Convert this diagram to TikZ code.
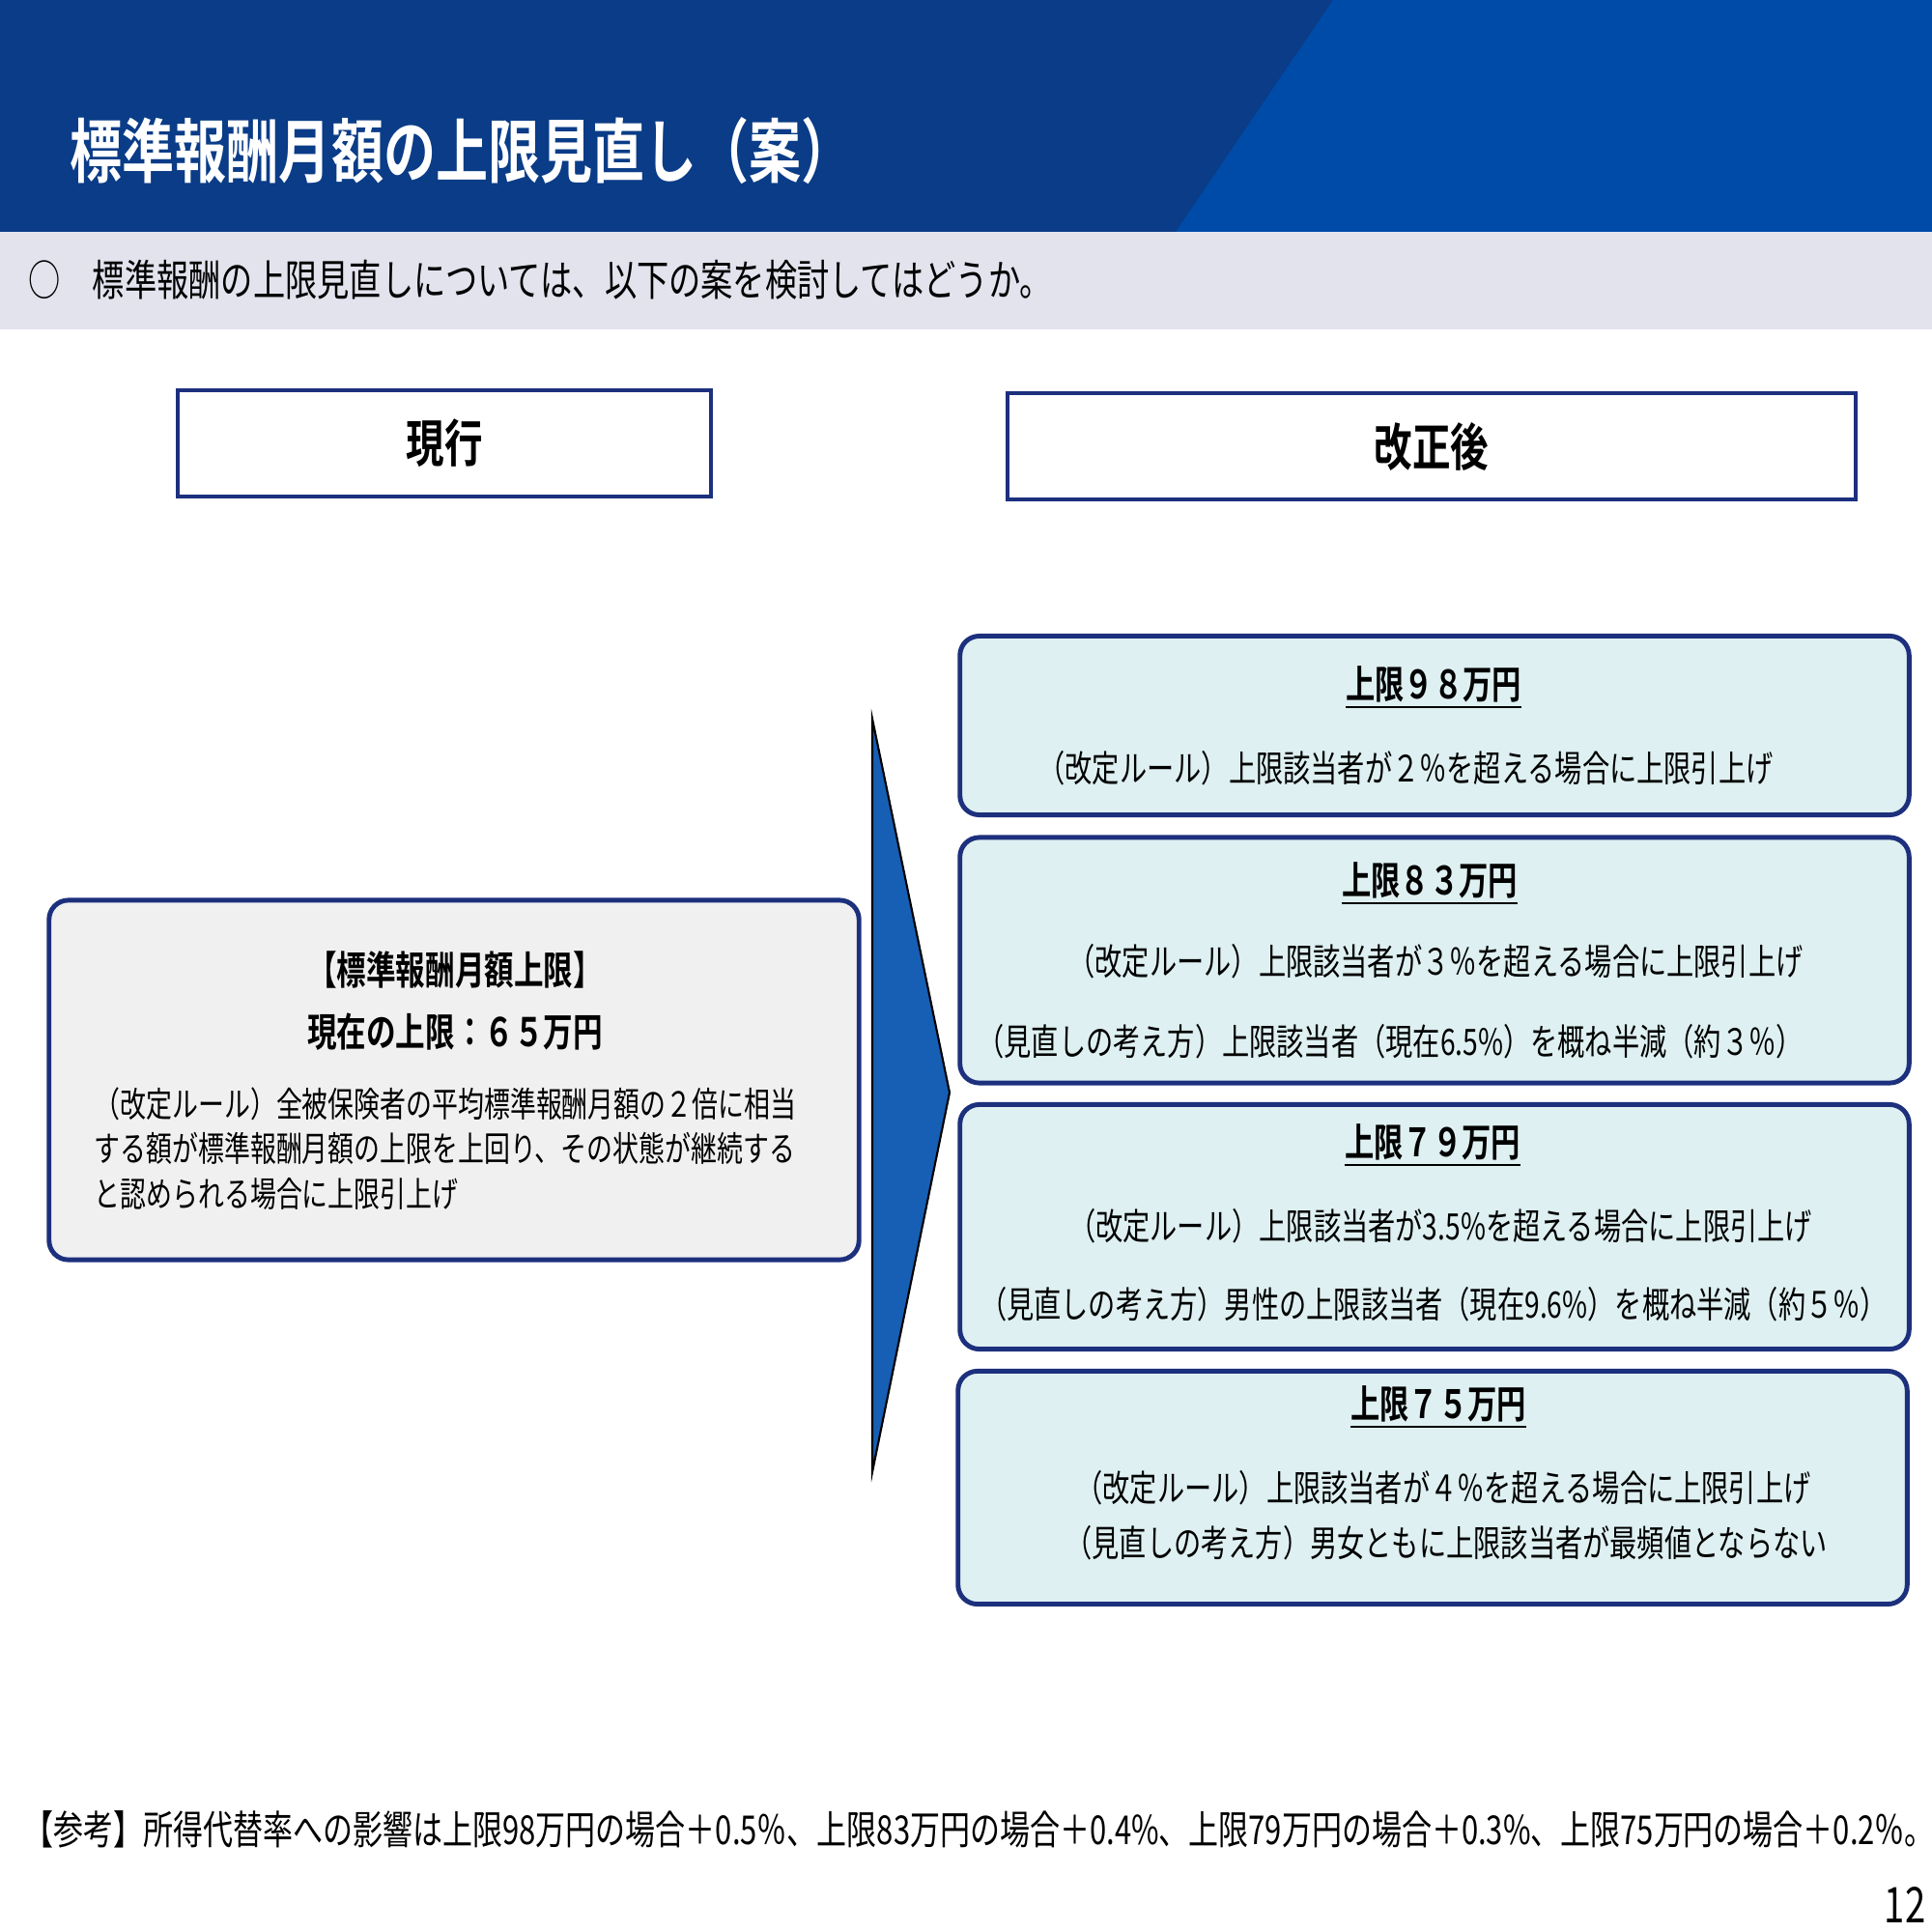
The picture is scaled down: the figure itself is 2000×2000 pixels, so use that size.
\documentclass[tikz,border=0pt]{standalone}
\usepackage{fontspec}
\setmainfont{Noto Sans CJK JP}[FakeStretch=0.75, BoldFont={Noto Sans CJK JP Bold}]
\usepackage{xcolor}
\usetikzlibrary{positioning,calc}

\definecolor{headdark}{RGB}{10,60,135}
\definecolor{headlight}{RGB}{0,75,168}
\definecolor{bandgray}{RGB}{227,227,238}
\definecolor{navyline}{RGB}{28,48,125}
\definecolor{nowfill}{RGB}{240,240,240}
\definecolor{planfill}{RGB}{222,240,241}
\definecolor{chevblue}{RGB}{22,95,180}

\begin{document}
\begin{tikzpicture}[
    x=0.01cm, y=-0.01cm,
    font=\small,
    colhead/.style={rectangle, draw=navyline, fill=white, line width=1.2pt, inner sep=0pt, minimum height=1.10cm, font=\fontsize{15}{18}\selectfont\bfseries},
    nowbox/.style={rectangle, draw=navyline, fill=nowfill, rounded corners=0.2cm, line width=1.4pt, inner sep=0pt, minimum width=8.38cm, minimum height=3.72cm},
    planbox/.style={rectangle, draw=navyline, fill=planfill, rounded corners=0.2cm, line width=1.4pt, inner sep=0pt, minimum width=9.82cm},
    nowhead/.style={inner sep=0pt, font=\fontsize{11.6}{13}\selectfont\bfseries},
    nowtext/.style={inner sep=0pt, align=left, font=\fontsize{10.2}{13.2}\selectfont},
    planhead/.style={inner sep=0pt, font=\fontsize{11.5}{13}\selectfont\bfseries},
    planline/.style={inner sep=0pt, font=\fontsize{10.7}{12.6}\selectfont},
    chevron/.style={fill=chevblue, draw=black, line width=0.6pt, line join=miter}
]
    \useasboundingbox (0,0) rectangle (2000,2000);

    % Header band & lead sentence
    \fill[headdark] (0,0) rectangle (2000,240);
    \fill[headlight] (1380,0) -- (2000,0) -- (2000,240) -- (1217,240) -- cycle;
    \fill[bandgray] (0,240) rectangle (2000,341);
    \node (title) at (72,156) [anchor=west, inner sep=0pt, text=white, font=\fontsize{20.5}{23}\selectfont\bfseries] {標準報酬月額の上限見直し（案）};
    \node (lead) at (29,290) [anchor=west, inner sep=0pt, font=\fontsize{12.6}{14}\selectfont] {○\hspace{0.33cm}標準報酬の上限見直しについては、以下の案を検討してはどうか。};

    % Column headings
    \node (now) at (460,459) [colhead, minimum width=5.51cm] {現行};
    \node (after) at (1482,462) [colhead, minimum width=8.78cm] {改正後};

    % Current rule (left)
    \node (nowbox) at (470,1118) [nowbox] {};
    \node (nowtitle) at (471,1004) [nowhead] {【標準報酬月額上限】};
    \node (nowcap) at (471,1068) [nowhead] {現在の上限：６５万円};
    \node (nowrule) at (97,1189) [nowtext, anchor=west] {（改定ルール）全被保険者の平均標準報酬月額の２倍に相当\\する額が標準報酬月額の上限を上回り、その状態が継続する\\と認められる場合に上限引上げ};

    % Chevron
    \filldraw[chevron] (903,744) -- (983,1131) -- (903,1524) -- cycle;

    % Revised options (right)
    \node (p98) at (1485,751) [planbox, minimum height=1.85cm] {};
    \node (p83) at (1485,994) [planbox, minimum height=2.54cm] {};
    \node (p79) at (1485,1270) [planbox, minimum height=2.53cm] {};
    \node (p75) at (1483,1540) [planbox, minimum height=2.41cm] {};

    \node (p98head) at (1484,712) [planhead] {\underline{上限９８万円}};
    \node (p98rule) at (1455,795) [planline] {（改定ルール）上限該当者が２％を超える場合に上限引上げ};

    \node (p83head) at (1480,915) [planhead] {\underline{上限８３万円}};
    \node (p83rule) at (1486,995) [planline] {（改定ルール）上限該当者が３％を超える場合に上限引上げ};
    \node (p83view) at (1439,1078) [planline] {（見直しの考え方）上限該当者（現在6.5\%）を概ね半減（約３％）};

    \node (p79head) at (1483,1186) [planhead] {\underline{上限７９万円}};
    \node (p79rule) at (1491,1269) [planline] {（改定ルール）上限該当者が3.5\%を超える場合に上限引上げ};
    \node (p79view) at (1484,1350) [planline] {（見直しの考え方）男性の上限該当者（現在9.6\%）を概ね半減（約５％）};

    \node (p75head) at (1489,1457) [planhead] {\underline{上限７５万円}};
    \node (p75rule) at (1494,1540) [planline] {（改定ルール）上限該当者が４％を超える場合に上限引上げ};
    \node (p75view) at (1497,1597) [planline] {（見直しの考え方）男女ともに上限該当者が最頻値とならない};

    % Footnote & page number
    \node (note) at (24,1894) [anchor=west, inner sep=0pt, font=\fontsize{11.75}{13}\selectfont] {【参考】所得代替率への影響は上限98万円の場合＋0.5％、上限83万円の場合＋0.4\%、上限79万円の場合＋0.3\%、上限75万円の場合＋0.2％。};
    \node (page) at (1972,1972) [inner sep=0pt, font=\fontsize{14.5}{16}\selectfont] {12};

\end{tikzpicture}
\end{document}
